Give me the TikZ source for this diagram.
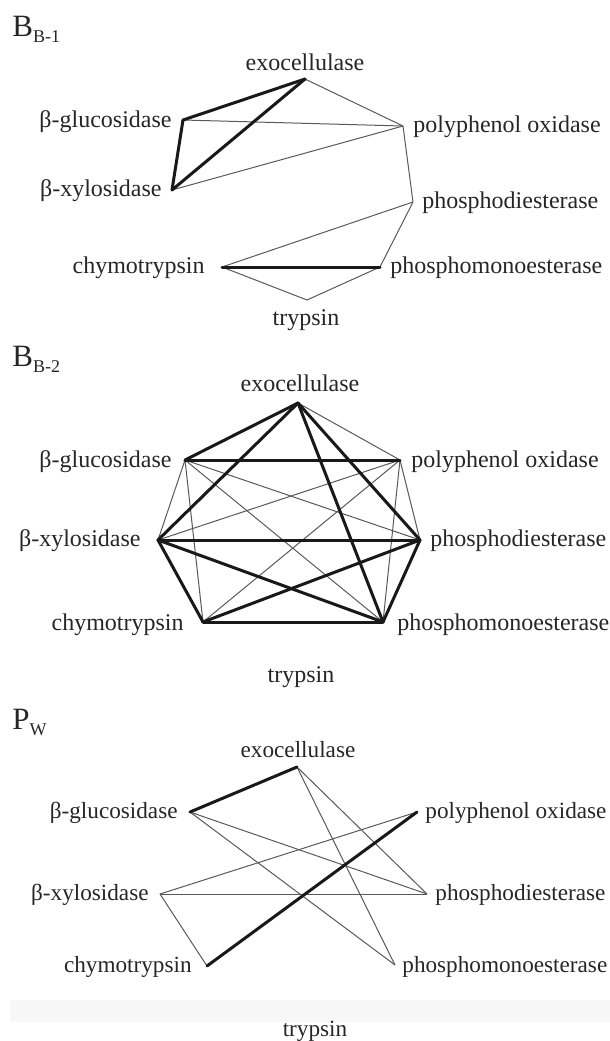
\documentclass[tikz,border=0pt]{standalone}
\usepackage{fontspec}
\setmainfont{Liberation Serif}
\usetikzlibrary{positioning}

\tikzset{
  lbl/.style={inner sep=0pt, text=black!85, font=\fontsize{12}{14}\selectfont},
  lblsm/.style={lbl, font=\fontsize{11.6}{14}\selectfont},
  ttl/.style={inner sep=0pt, text=black!85, anchor=west},
  thinedge/.style={draw=black!65, line width=0.5pt},
  thickedge/.style={draw=black!90, line width=1.5pt, line cap=round, line join=round},
}
\newcommand{\paneltitle}[2]{{\fontsize{15.5}{17}\selectfont #1}\raisebox{-3pt}{\fontsize{9}{10}\selectfont #2}}

\begin{document}
\begin{tikzpicture}[x=0.5pt,y=-0.5pt]
\useasboundingbox (0,0) rectangle (610,1041);
\fill[black!3] (10,1000) rectangle (610,1022);

% ---- B_{B-1}
\node[ttl] (atitle) at (12,29) {\paneltitle{B}{B-1}};
\coordinate (aexo) at (305,79);
\coordinate (aglu) at (183,120);
\coordinate (apol) at (403,126);
\coordinate (axyl) at (172,190);
\coordinate (adie) at (413,202);
\coordinate (achy) at (222,267);
\coordinate (amon) at (380,267);
\coordinate (atry) at (307,300);
\node[lbl] (aexoL) at (305,62) {exocellulase};
\node[lbl, anchor=east] (agluL) at (172,122) {β-glucosidase};
\node[lbl, anchor=west] (apolL) at (413,127) {polyphenol oxidase};
\node[lbl, anchor=east] (axylL) at (162,191) {β-xylosidase};
\node[lbl, anchor=west] (adieL) at (422,203) {phosphodiesterase};
\node[lbl, anchor=east] (achyL) at (205,268) {chymotrypsin};
\node[lbl, anchor=west] (amonL) at (390,268) {phosphomonoesterase};
\node[lbl] (atryL) at (306,320) {trypsin};
\foreach \u/\v in {exo/pol,glu/pol,xyl/pol,pol/die,die/chy,die/mon,chy/try,mon/try}
  \draw[thinedge] (a\u) -- (a\v);
\foreach \u/\v in {exo/glu,exo/xyl,glu/xyl,chy/mon}
  \draw[thickedge] (a\u) -- (a\v);

% ---- B_{B-2}
\node[ttl] (btitle) at (12,359) {\paneltitle{B}{B-2}};
\coordinate (bexo) at (298,403);
\coordinate (bglu) at (185,460);
\coordinate (bpol) at (400,460);
\coordinate (bxyl) at (158,540);
\coordinate (bdie) at (420,540);
\coordinate (bchy) at (203,622);
\coordinate (bmon) at (383,622);
\node[lbl] (bexoL) at (300,383) {exocellulase};
\node[lbl, anchor=east] (bgluL) at (172,462) {β-glucosidase};
\node[lbl, anchor=west] (bpolL) at (411,462) {polyphenol oxidase};
\node[lbl, anchor=east] (bxylL) at (141,541) {β-xylosidase};
\node[lbl, anchor=west] (bdieL) at (430,541) {phosphodiesterase};
\node[lbl, anchor=east] (bchyL) at (184,625) {chymotrypsin};
\node[lbl, anchor=west] (bmonL) at (397,625) {phosphomonoesterase};
\node[lbl] (btryL) at (301,677) {trypsin};
\foreach \u/\v in {exo/pol,glu/xyl,glu/chy,glu/die,glu/mon,pol/xyl,pol/chy,pol/die,pol/mon}
  \draw[thinedge] (b\u) -- (b\v);
\foreach \u/\v in {exo/glu,exo/xyl,exo/die,exo/mon,glu/pol,xyl/die,xyl/mon,xyl/chy,chy/die,chy/mon,die/mon}
  \draw[thickedge] (b\u) -- (b\v);

% ---- P_W
\node[ttl] (ctitle) at (12,722) {\paneltitle{P}{W}};
\coordinate (cexo) at (297,767);
\coordinate (cglu) at (190,812);
\coordinate (cpol) at (417,812);
\coordinate (cxyl) at (160,894);
\coordinate (cdie) at (427,894);
\coordinate (cchy) at (207,966);
\coordinate (cmon) at (395,965);
\node[lblsm] (cexoL) at (298,750) {exocellulase};
\node[lblsm, anchor=east] (cgluL) at (178,813) {β-glucosidase};
\node[lblsm, anchor=west] (cpolL) at (425,813) {polyphenol oxidase};
\node[lblsm, anchor=east] (cxylL) at (149,895) {β-xylosidase};
\node[lblsm, anchor=west] (cdieL) at (435,895) {phosphodiesterase};
\node[lblsm, anchor=east] (cchyL) at (192,967) {chymotrypsin};
\node[lblsm, anchor=west] (cmonL) at (402,967) {phosphomonoesterase};
\node[lblsm] (ctryL) at (315,1031) {trypsin};
\foreach \u/\v in {exo/die,exo/mon,glu/die,glu/mon,pol/xyl,xyl/die,xyl/chy}
  \draw[thinedge] (c\u) -- (c\v);
\foreach \u/\v in {exo/glu,pol/chy}
  \draw[thickedge] (c\u) -- (c\v);
\end{tikzpicture}
\end{document}
